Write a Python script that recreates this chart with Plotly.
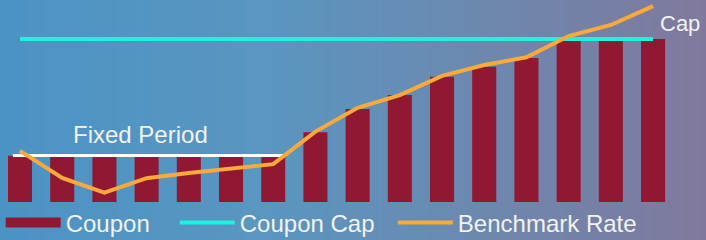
import plotly.graph_objects as go

periods = list(range(16))
coupon = [1.42, 1.42, 1.42, 1.42, 1.42, 1.42, 1.42, 2.14, 2.85, 3.28, 3.84, 4.15, 4.42, 5.0, 5.0, 5.0]
benchmark = [1.57, 0.74, 0.29, 0.73, 0.89, 1.01, 1.16, 2.16, 2.89, 3.28, 3.87, 4.20, 4.44, 5.09, 5.43, 6.01]
cap_level = 5.0
fixed_level = 1.43
fixed_span = [-0.17, 6.24]

FONT = "Liberation Sans, Arial, sans-serif"
BAR_COLOR = "#911832"

fig = go.Figure()
fig.add_trace(go.Bar(x=periods, y=coupon, name="Coupon", width=0.57, showlegend=False,
                     legendgroup="coupon", marker=dict(color=BAR_COLOR, line=dict(width=0))))
# legend swatch for the bars (wide block like the reference)
fig.add_trace(go.Scatter(x=[None], y=[None], mode="lines", name="Coupon\u00a0\u00a0\u00a0",
                         legendgroup="coupon", line=dict(color=BAR_COLOR, width=13)))
fig.add_trace(go.Scatter(x=fixed_span, y=[fixed_level, fixed_level], mode="lines",
                         line=dict(color="white", width=3), showlegend=False, hoverinfo="skip"))
fig.add_trace(go.Scatter(x=[periods[0], periods[-1]], y=[cap_level, cap_level], mode="lines",
                         name="Coupon Cap\u00a0\u00a0", line=dict(color="#1CF2DC", width=4)))
fig.add_trace(go.Scatter(x=periods, y=benchmark, mode="lines", name="Benchmark Rate",
                         line=dict(color="#FBA93A", width=4)))

svg = ("data:image/svg+xml;utf8,<svg xmlns='http://www.w3.org/2000/svg' width='706' height='240' "
       "preserveAspectRatio='none'><defs><linearGradient id='g' x1='0' x2='1' y1='0' y2='0'>"
       "<stop offset='0' stop-color='rgb(75,147,197)'/>"
       "<stop offset='0.38' stop-color='rgb(90,150,192)'/>"
       "<stop offset='1' stop-color='rgb(128,121,157)'/>"
       "</linearGradient></defs><rect width='706' height='240' fill='url(%23g)'/></svg>")

fig.update_layout(
    width=706, height=240,
    margin=dict(l=0, r=31, t=0, b=38, autoexpand=False),
    paper_bgcolor="rgb(95,140,185)",
    plot_bgcolor="rgba(0,0,0,0)",
    images=[dict(source=svg, xref="paper", yref="paper", x=0, y=1, sizex=706 / 675, sizey=240 / 202,
                 xanchor="left", yanchor="top", sizing="stretch", layer="below")],
    showlegend=True,
    legend=dict(orientation="h", x=0.001, y=0.008, xanchor="left", yanchor="top",
                font=dict(family=FONT, size=24, color="#F2F2F2"),
                bgcolor="rgba(0,0,0,0)", traceorder="normal", itemwidth=55),
    xaxis=dict(range=[-0.474, 15.52], visible=False),
    yaxis=dict(range=[0, 6.196], visible=False),
    annotations=[
        dict(x=2.85, y=2.06, xref="x", yref="y", text="Fixed Period", showarrow=False,
             font=dict(family=FONT, size=24, color="#F2F2F2"), xanchor="center", yanchor="middle"),
        dict(x=15.12, y=5.49, xref="x", yref="y", text="Cap", showarrow=False,
             font=dict(family=FONT, size=22, color="#F2F2F2"), xanchor="left", yanchor="middle"),
    ],
)

fig.write_html("out.html", config={"displayModeBar": False},
               post_script="document.body.style.margin='0';document.body.style.overflow='hidden';")
